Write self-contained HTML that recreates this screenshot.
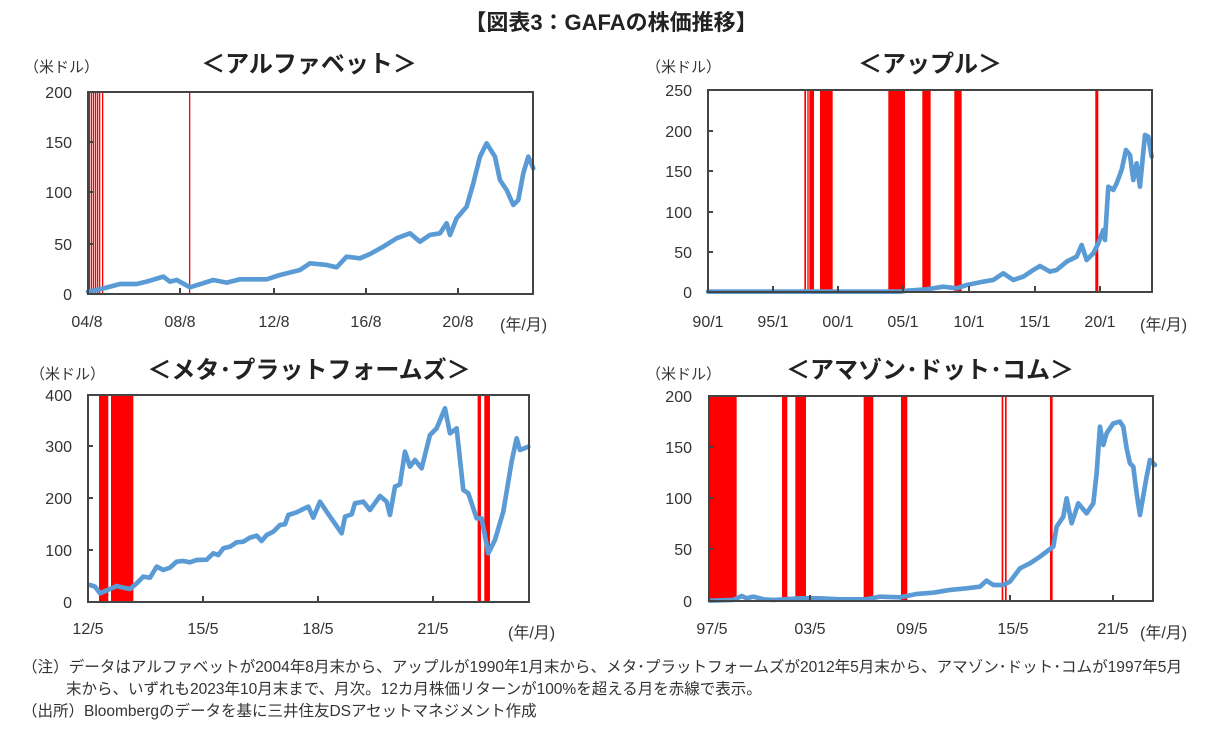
<!DOCTYPE html>
<html><head><meta charset="utf-8"><style>
body{margin:0;background:#fff;width:1222px;height:735px;overflow:hidden}
svg{font-family:"Liberation Sans","Noto Sans CJK JP",sans-serif}
.t{font-size:16px;fill:#333}
.u{font-size:15px;fill:#333}
.h{font-size:24px;font-weight:bold;fill:#222}
.n{font-size:15.5px;fill:#333}
.ln{fill:none;stroke:#5b9bd5;stroke-width:14;stroke-linejoin:round;stroke-linecap:round}
.bx{fill:none;stroke:#444;stroke-width:2}
</style></head><body>
<svg width="1222" height="735" xmlns="http://www.w3.org/2000/svg">
<text x="611" y="30" text-anchor="middle" font-size="22" font-weight="bold" fill="#222">【図表3：GAFAの株価推移】</text>

<!-- Panel 1 -->
<text x="309" y="72" text-anchor="middle" class="h">＜アルファベット＞</text>
<text x="24" y="72" class="u">（米ドル）</text>
<g fill="#ff0000">
<rect x="89" y="92" width="1.3" height="202"/><rect x="91" y="92" width="1.3" height="202"/><rect x="93" y="92" width="1.3" height="202"/><rect x="95" y="92" width="1.3" height="202"/><rect x="97" y="92" width="1.3" height="202"/><rect x="99" y="92" width="1.3" height="202"/><rect x="102" y="92" width="1.3" height="202"/><rect x="189" y="92" width="1.3" height="202"/>
</g>
<g transform="translate(80,80) scale(0.3333)"><polyline class="ln" points="24,635 60,628 120,612 170,612 200,605 250,590 270,605 290,600 330,622 400,600 440,608 480,598 560,598 600,585 660,570 690,550 740,555 770,562 800,530 840,535 870,522 910,500 950,475 990,460 1020,485 1050,465 1080,460 1100,430 1110,465 1130,415 1160,380 1180,310 1200,230 1220,190 1245,230 1260,300 1280,330 1300,375 1315,360 1330,280 1345,230 1360,265"/></g>
<rect class="bx" x="88" y="92" width="445" height="202"/>
<g stroke="#444" stroke-width="2"><line x1="88" y1="142" x2="93" y2="142"/><line x1="88" y1="192" x2="93" y2="192"/><line x1="88" y1="244" x2="93" y2="244"/>
<line x1="180" y1="294" x2="180" y2="288"/><line x1="274" y1="294" x2="274" y2="288"/><line x1="366" y1="294" x2="366" y2="288"/><line x1="458" y1="294" x2="458" y2="288"/></g>
<g class="t" text-anchor="end"><text x="72" y="98">200</text><text x="72" y="148">150</text><text x="72" y="198">100</text><text x="72" y="250">50</text><text x="72" y="300">0</text></g>
<g class="t" text-anchor="middle"><text x="87" y="327">04/8</text><text x="180" y="327">08/8</text><text x="274" y="327">12/8</text><text x="366" y="327">16/8</text><text x="458" y="327">20/8</text></g>
<text x="500" y="330" class="t">(年/月)</text>

<!-- Panel 2 -->
<text x="930" y="72" text-anchor="middle" class="h">＜アップル＞</text>
<text x="646" y="72" class="u">（米ドル）</text>
<g fill="red" transform="translate(700,80) scale(0.3333)">
<rect x="313" y="30" width="5" height="605"/><rect x="322" y="30" width="4" height="605"/><rect x="328" y="30" width="14" height="605"/><rect x="360" y="30" width="38" height="605"/><rect x="565" y="30" width="50" height="605"/><rect x="667" y="30" width="25" height="605"/><rect x="763" y="30" width="22" height="605"/><rect x="1186" y="30" width="9" height="605"/>
<polyline class="ln" points="24,635 600,635 620,632 680,628 730,620 770,625 800,615 850,605 880,600 910,580 940,600 970,590 1000,570 1020,558 1050,575 1070,570 1100,545 1130,530 1145,495 1160,540 1180,520 1195,490 1210,450 1215,480 1225,320 1240,330 1250,310 1265,270 1278,210 1290,225 1300,300 1310,250 1320,320 1335,165 1345,170 1355,230"/>
</g>
<rect class="bx" x="708" y="90" width="444" height="202"/>
<g stroke="#444" stroke-width="2"><line x1="708" y1="131" x2="713" y2="131"/><line x1="708" y1="171" x2="713" y2="171"/><line x1="708" y1="212" x2="713" y2="212"/><line x1="708" y1="252" x2="713" y2="252"/>
<line x1="773" y1="292" x2="773" y2="286"/><line x1="838" y1="292" x2="838" y2="286"/><line x1="903" y1="292" x2="903" y2="286"/><line x1="969" y1="292" x2="969" y2="286"/><line x1="1035" y1="292" x2="1035" y2="286"/><line x1="1100" y1="292" x2="1100" y2="286"/></g>
<g class="t" text-anchor="end"><text x="692" y="96">250</text><text x="692" y="137">200</text><text x="692" y="177">150</text><text x="692" y="218">100</text><text x="692" y="258">50</text><text x="692" y="298">0</text></g>
<g class="t" text-anchor="middle"><text x="708" y="327">90/1</text><text x="773" y="327">95/1</text><text x="838" y="327">00/1</text><text x="903" y="327">05/1</text><text x="969" y="327">10/1</text><text x="1035" y="327">15/1</text><text x="1100" y="327">20/1</text></g>
<text x="1140" y="330" class="t">(年/月)</text>

<!-- Panel 3 -->
<text x="309" y="378" text-anchor="middle" class="h">＜メタ･プラットフォームズ＞</text>
<text x="30" y="379" class="u">（米ドル）</text>
<g fill="red" transform="translate(80,385) scale(0.3333)">
<rect x="57" y="30" width="28" height="620"/><rect x="93" y="30" width="67" height="620"/><rect x="1193" y="30" width="10" height="620"/><rect x="1213" y="30" width="17" height="620"/>
<polyline class="ln" points="30,600 45,605 60,625 90,612 110,603 130,608 150,612 170,595 190,575 210,578 230,545 250,555 270,548 290,530 310,528 330,532 350,525 380,524 400,505 415,510 430,490 450,485 470,472 490,470 510,458 530,452 545,468 560,450 580,440 600,420 615,418 625,390 650,382 670,372 685,365 700,398 720,350 740,380 785,445 795,395 815,388 825,355 850,350 870,375 900,333 920,350 930,390 945,305 960,298 975,200 990,245 1005,225 1025,250 1050,150 1070,130 1095,70 1110,145 1130,130 1150,315 1165,325 1190,400 1205,400 1225,505 1245,465 1270,380 1295,230 1310,160 1320,195 1345,185"/>
</g>
<rect class="bx" x="88" y="395" width="441" height="207"/>
<g stroke="#444" stroke-width="2"><line x1="88" y1="446" x2="93" y2="446"/><line x1="88" y1="498" x2="93" y2="498"/><line x1="88" y1="550" x2="93" y2="550"/>
<line x1="203" y1="602" x2="203" y2="596"/><line x1="318" y1="602" x2="318" y2="596"/><line x1="433" y1="602" x2="433" y2="596"/></g>
<g class="t" text-anchor="end"><text x="72" y="401">400</text><text x="72" y="452">300</text><text x="72" y="504">200</text><text x="72" y="556">100</text><text x="72" y="608">0</text></g>
<g class="t" text-anchor="middle"><text x="88" y="634">12/5</text><text x="203" y="634">15/5</text><text x="318" y="634">18/5</text><text x="433" y="634">21/5</text></g>
<text x="508" y="638" class="t">(年/月)</text>

<!-- Panel 4 -->
<text x="930" y="378" text-anchor="middle" class="h">＜アマゾン･ドット･コム＞</text>
<text x="646" y="379" class="u">（米ドル）</text>
<g fill="red" transform="translate(700,390) scale(0.3333)">
<rect x="30" y="18" width="80" height="614"/><rect x="246" y="18" width="16" height="614"/><rect x="286" y="18" width="32" height="614"/><rect x="491" y="18" width="29" height="614"/><rect x="603" y="18" width="19" height="614"/><rect x="905" y="18" width="5" height="614"/><rect x="915" y="18" width="5" height="614"/><rect x="1050" y="18" width="8" height="614"/>
<polyline class="ln" points="30,632 100,630 125,618 140,625 160,620 190,628 220,630 300,625 360,625 420,628 500,628 540,620 600,622 650,612 700,608 750,600 800,595 840,590 860,572 880,585 910,585 930,575 960,535 990,520 1020,500 1040,485 1060,470 1070,410 1090,380 1100,325 1115,400 1135,340 1160,370 1180,340 1190,250 1200,110 1210,165 1220,130 1240,100 1260,95 1270,110 1280,175 1290,220 1300,230 1310,310 1320,375 1340,260 1350,210 1365,225"/>
</g>
<rect class="bx" x="709" y="396" width="444" height="205"/>
<g stroke="#444" stroke-width="2"><line x1="709" y1="447" x2="714" y2="447"/><line x1="709" y1="498" x2="714" y2="498"/><line x1="709" y1="549" x2="714" y2="549"/>
<line x1="810" y1="601" x2="810" y2="595"/><line x1="1010" y1="601" x2="1010" y2="595"/><line x1="1113" y1="601" x2="1113" y2="595"/></g>
<g class="t" text-anchor="end"><text x="692" y="402">200</text><text x="692" y="453">150</text><text x="692" y="504">100</text><text x="692" y="555">50</text><text x="692" y="607">0</text></g>
<g class="t" text-anchor="middle"><text x="712" y="634">97/5</text><text x="810" y="634">03/5</text><text x="912" y="634">09/5</text><text x="1013" y="634">15/5</text><text x="1113" y="634">21/5</text></g>
<text x="1140" y="638" class="t">(年/月)</text>

<!-- Notes -->
<g class="n">
<text x="22" y="672" textLength="1160" lengthAdjust="spacingAndGlyphs">（注）データはアルファベットが2004年8月末から、アップルが1990年1月末から、メタ･プラットフォームズが2012年5月末から、アマゾン･ドット･コムが1997年5月</text>
<text x="66" y="694">末から、いずれも2023年10月末まで、月次。12カ月株価リターンが100%を超える月を赤線で表示。</text>
<text x="22" y="716">（出所）Bloombergのデータを基に三井住友DSアセットマネジメント作成</text>
</g>
</svg>
</body></html>
